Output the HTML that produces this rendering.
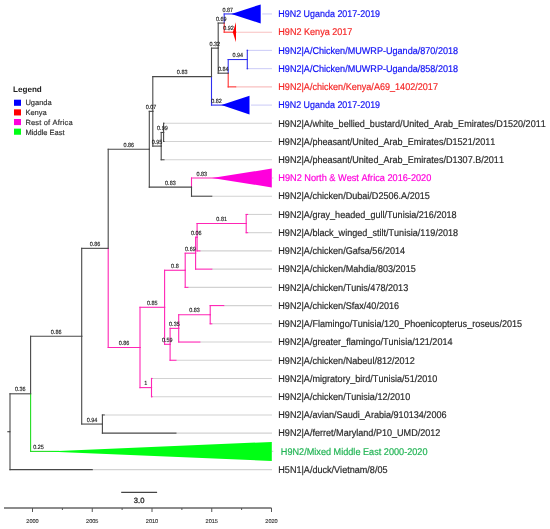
<!DOCTYPE html>
<html><head><meta charset="utf-8"><style>
html,body{margin:0;padding:0;background:#fff;width:550px;height:529px;overflow:hidden;}
svg{display:block;will-change:transform;}
text{font-family:"Liberation Sans",sans-serif;font-kerning:none;}
</style></head><body>
<svg width="550" height="529" viewBox="0 0 550 529">
<line x1="262.20" y1="13.95" x2="272" y2="13.95" stroke="#cfcff8" stroke-width="1.1"/>
<line x1="237.50" y1="32.18" x2="272" y2="32.18" stroke="#f8c0c0" stroke-width="1.1"/>
<line x1="247.60" y1="50.40" x2="272" y2="50.40" stroke="#cfcff8" stroke-width="1.1"/>
<line x1="247.60" y1="68.63" x2="272" y2="68.63" stroke="#cfcff8" stroke-width="1.1"/>
<line x1="235.65" y1="86.86" x2="272" y2="86.86" stroke="#f8c0c0" stroke-width="1.1"/>
<line x1="251.00" y1="105.09" x2="272" y2="105.09" stroke="#cfcff8" stroke-width="1.1"/>
<line x1="163.95" y1="123.31" x2="272" y2="123.31" stroke="#d2d2d2" stroke-width="1.1"/>
<line x1="163.95" y1="141.54" x2="272" y2="141.54" stroke="#d2d2d2" stroke-width="1.1"/>
<line x1="163.95" y1="159.77" x2="272" y2="159.77" stroke="#d2d2d2" stroke-width="1.1"/>
<line x1="273.30" y1="177.99" x2="272" y2="177.99" stroke="#d2d2d2" stroke-width="1.1"/>
<line x1="211.75" y1="196.22" x2="272" y2="196.22" stroke="#d2d2d2" stroke-width="1.1"/>
<line x1="247.60" y1="214.45" x2="272" y2="214.45" stroke="#d2d2d2" stroke-width="1.1"/>
<line x1="247.60" y1="232.67" x2="272" y2="232.67" stroke="#d2d2d2" stroke-width="1.1"/>
<line x1="199.80" y1="250.90" x2="272" y2="250.90" stroke="#d2d2d2" stroke-width="1.1"/>
<line x1="211.75" y1="269.13" x2="272" y2="269.13" stroke="#d2d2d2" stroke-width="1.1"/>
<line x1="187.85" y1="287.36" x2="272" y2="287.36" stroke="#d2d2d2" stroke-width="1.1"/>
<line x1="223.70" y1="305.58" x2="272" y2="305.58" stroke="#d2d2d2" stroke-width="1.1"/>
<line x1="211.75" y1="323.81" x2="272" y2="323.81" stroke="#d2d2d2" stroke-width="1.1"/>
<line x1="199.80" y1="342.04" x2="272" y2="342.04" stroke="#d2d2d2" stroke-width="1.1"/>
<line x1="175.90" y1="360.26" x2="272" y2="360.26" stroke="#d2d2d2" stroke-width="1.1"/>
<line x1="152.00" y1="378.49" x2="272" y2="378.49" stroke="#d2d2d2" stroke-width="1.1"/>
<line x1="152.00" y1="396.72" x2="272" y2="396.72" stroke="#d2d2d2" stroke-width="1.1"/>
<line x1="104.20" y1="414.94" x2="272" y2="414.94" stroke="#d2d2d2" stroke-width="1.1"/>
<line x1="175.90" y1="433.17" x2="272" y2="433.17" stroke="#d2d2d2" stroke-width="1.1"/>
<line x1="273.30" y1="451.40" x2="272" y2="451.40" stroke="#d2d2d2" stroke-width="1.1"/>
<line x1="92.25" y1="469.62" x2="272" y2="469.62" stroke="#d2d2d2" stroke-width="1.1"/>
<line x1="224.20" y1="13.95" x2="243.40" y2="13.95" stroke="#3030f0" stroke-width="1.1" stroke-linecap="square"/>
<line x1="224.20" y1="32.18" x2="236.00" y2="32.18" stroke="#ff3030" stroke-width="1.1" stroke-linecap="square"/>
<line x1="224.20" y1="23.06" x2="224.20" y2="13.95" stroke="#3030f0" stroke-width="1.1" stroke-linecap="square"/>
<line x1="224.20" y1="23.06" x2="224.20" y2="32.18" stroke="#ff3030" stroke-width="1.1" stroke-linecap="square"/>
<line x1="218.20" y1="23.06" x2="224.20" y2="23.06" stroke="#484848" stroke-width="1.1" stroke-linecap="square"/>
<line x1="247.30" y1="50.40" x2="247.60" y2="50.40" stroke="#3030f0" stroke-width="1.1" stroke-linecap="square"/>
<line x1="247.30" y1="68.63" x2="247.60" y2="68.63" stroke="#3030f0" stroke-width="1.1" stroke-linecap="square"/>
<line x1="247.30" y1="59.52" x2="247.30" y2="50.40" stroke="#3030f0" stroke-width="1.1" stroke-linecap="square"/>
<line x1="247.30" y1="59.52" x2="247.30" y2="68.63" stroke="#3030f0" stroke-width="1.1" stroke-linecap="square"/>
<line x1="228.20" y1="59.52" x2="247.30" y2="59.52" stroke="#3030f0" stroke-width="1.1" stroke-linecap="square"/>
<line x1="228.20" y1="86.86" x2="235.65" y2="86.86" stroke="#ff3030" stroke-width="1.1" stroke-linecap="square"/>
<line x1="228.20" y1="73.19" x2="228.20" y2="59.52" stroke="#3030f0" stroke-width="1.1" stroke-linecap="square"/>
<line x1="228.20" y1="73.19" x2="228.20" y2="86.86" stroke="#ff3030" stroke-width="1.1" stroke-linecap="square"/>
<line x1="218.20" y1="73.19" x2="228.20" y2="73.19" stroke="#484848" stroke-width="1.1" stroke-linecap="square"/>
<line x1="218.20" y1="48.13" x2="218.20" y2="23.06" stroke="#484848" stroke-width="1.1" stroke-linecap="square"/>
<line x1="218.20" y1="48.13" x2="218.20" y2="73.19" stroke="#484848" stroke-width="1.1" stroke-linecap="square"/>
<line x1="211.50" y1="48.13" x2="218.20" y2="48.13" stroke="#484848" stroke-width="1.1" stroke-linecap="square"/>
<line x1="211.50" y1="105.09" x2="233.40" y2="105.09" stroke="#3030f0" stroke-width="1.1" stroke-linecap="square"/>
<line x1="211.50" y1="76.61" x2="211.50" y2="48.13" stroke="#484848" stroke-width="1.1" stroke-linecap="square"/>
<line x1="211.50" y1="76.61" x2="211.50" y2="105.09" stroke="#3030f0" stroke-width="1.1" stroke-linecap="square"/>
<line x1="152.80" y1="76.61" x2="211.50" y2="76.61" stroke="#484848" stroke-width="1.1" stroke-linecap="square"/>
<line x1="163.60" y1="123.31" x2="163.95" y2="123.31" stroke="#484848" stroke-width="1.1" stroke-linecap="square"/>
<line x1="163.60" y1="141.54" x2="163.95" y2="141.54" stroke="#484848" stroke-width="1.1" stroke-linecap="square"/>
<line x1="163.60" y1="132.43" x2="163.60" y2="123.31" stroke="#484848" stroke-width="1.1" stroke-linecap="square"/>
<line x1="163.60" y1="132.43" x2="163.60" y2="141.54" stroke="#484848" stroke-width="1.1" stroke-linecap="square"/>
<line x1="161.20" y1="132.43" x2="163.60" y2="132.43" stroke="#484848" stroke-width="1.1" stroke-linecap="square"/>
<line x1="161.20" y1="159.77" x2="163.95" y2="159.77" stroke="#484848" stroke-width="1.1" stroke-linecap="square"/>
<line x1="161.20" y1="146.10" x2="161.20" y2="132.43" stroke="#484848" stroke-width="1.1" stroke-linecap="square"/>
<line x1="161.20" y1="146.10" x2="161.20" y2="159.77" stroke="#484848" stroke-width="1.1" stroke-linecap="square"/>
<line x1="152.80" y1="146.10" x2="161.20" y2="146.10" stroke="#484848" stroke-width="1.1" stroke-linecap="square"/>
<line x1="152.80" y1="111.35" x2="152.80" y2="76.61" stroke="#484848" stroke-width="1.1" stroke-linecap="square"/>
<line x1="152.80" y1="111.35" x2="152.80" y2="146.10" stroke="#484848" stroke-width="1.1" stroke-linecap="square"/>
<line x1="149.30" y1="111.35" x2="152.80" y2="111.35" stroke="#484848" stroke-width="1.1" stroke-linecap="square"/>
<line x1="191.50" y1="177.99" x2="224.00" y2="177.99" stroke="#ff25b5" stroke-width="1.1" stroke-linecap="square"/>
<line x1="191.50" y1="196.22" x2="211.75" y2="196.22" stroke="#484848" stroke-width="1.1" stroke-linecap="square"/>
<line x1="191.50" y1="187.11" x2="191.50" y2="177.99" stroke="#ff25b5" stroke-width="1.1" stroke-linecap="square"/>
<line x1="191.50" y1="187.11" x2="191.50" y2="196.22" stroke="#484848" stroke-width="1.1" stroke-linecap="square"/>
<line x1="149.30" y1="187.11" x2="191.50" y2="187.11" stroke="#484848" stroke-width="1.1" stroke-linecap="square"/>
<line x1="149.30" y1="149.23" x2="149.30" y2="111.35" stroke="#484848" stroke-width="1.1" stroke-linecap="square"/>
<line x1="149.30" y1="149.23" x2="149.30" y2="187.11" stroke="#484848" stroke-width="1.1" stroke-linecap="square"/>
<line x1="108.20" y1="149.23" x2="149.30" y2="149.23" stroke="#484848" stroke-width="1.1" stroke-linecap="square"/>
<line x1="246.20" y1="214.45" x2="247.60" y2="214.45" stroke="#ff25b5" stroke-width="1.1" stroke-linecap="square"/>
<line x1="246.20" y1="232.67" x2="247.60" y2="232.67" stroke="#ff25b5" stroke-width="1.1" stroke-linecap="square"/>
<line x1="246.20" y1="223.56" x2="246.20" y2="214.45" stroke="#ff25b5" stroke-width="1.1" stroke-linecap="square"/>
<line x1="246.20" y1="223.56" x2="246.20" y2="232.67" stroke="#ff25b5" stroke-width="1.1" stroke-linecap="square"/>
<line x1="197.10" y1="223.56" x2="246.20" y2="223.56" stroke="#ff25b5" stroke-width="1.1" stroke-linecap="square"/>
<line x1="197.10" y1="250.90" x2="199.80" y2="250.90" stroke="#ff25b5" stroke-width="1.1" stroke-linecap="square"/>
<line x1="197.10" y1="237.23" x2="197.10" y2="223.56" stroke="#ff25b5" stroke-width="1.1" stroke-linecap="square"/>
<line x1="197.10" y1="237.23" x2="197.10" y2="250.90" stroke="#ff25b5" stroke-width="1.1" stroke-linecap="square"/>
<line x1="195.60" y1="237.23" x2="197.10" y2="237.23" stroke="#ff25b5" stroke-width="1.1" stroke-linecap="square"/>
<line x1="195.60" y1="269.13" x2="211.75" y2="269.13" stroke="#ff25b5" stroke-width="1.1" stroke-linecap="square"/>
<line x1="195.60" y1="253.18" x2="195.60" y2="237.23" stroke="#ff25b5" stroke-width="1.1" stroke-linecap="square"/>
<line x1="195.60" y1="253.18" x2="195.60" y2="269.13" stroke="#ff25b5" stroke-width="1.1" stroke-linecap="square"/>
<line x1="185.20" y1="253.18" x2="195.60" y2="253.18" stroke="#ff25b5" stroke-width="1.1" stroke-linecap="square"/>
<line x1="185.20" y1="287.36" x2="187.85" y2="287.36" stroke="#ff25b5" stroke-width="1.1" stroke-linecap="square"/>
<line x1="185.20" y1="270.27" x2="185.20" y2="253.18" stroke="#ff25b5" stroke-width="1.1" stroke-linecap="square"/>
<line x1="185.20" y1="270.27" x2="185.20" y2="287.36" stroke="#ff25b5" stroke-width="1.1" stroke-linecap="square"/>
<line x1="164.60" y1="270.27" x2="185.20" y2="270.27" stroke="#ff25b5" stroke-width="1.1" stroke-linecap="square"/>
<line x1="210.20" y1="305.58" x2="223.70" y2="305.58" stroke="#ff25b5" stroke-width="1.1" stroke-linecap="square"/>
<line x1="210.20" y1="323.81" x2="211.75" y2="323.81" stroke="#ff25b5" stroke-width="1.1" stroke-linecap="square"/>
<line x1="210.20" y1="314.70" x2="210.20" y2="305.58" stroke="#ff25b5" stroke-width="1.1" stroke-linecap="square"/>
<line x1="210.20" y1="314.70" x2="210.20" y2="323.81" stroke="#ff25b5" stroke-width="1.1" stroke-linecap="square"/>
<line x1="178.70" y1="314.70" x2="210.20" y2="314.70" stroke="#ff25b5" stroke-width="1.1" stroke-linecap="square"/>
<line x1="178.70" y1="342.04" x2="199.80" y2="342.04" stroke="#ff25b5" stroke-width="1.1" stroke-linecap="square"/>
<line x1="178.70" y1="328.37" x2="178.70" y2="314.70" stroke="#ff25b5" stroke-width="1.1" stroke-linecap="square"/>
<line x1="178.70" y1="328.37" x2="178.70" y2="342.04" stroke="#ff25b5" stroke-width="1.1" stroke-linecap="square"/>
<line x1="170.10" y1="328.37" x2="178.70" y2="328.37" stroke="#ff25b5" stroke-width="1.1" stroke-linecap="square"/>
<line x1="170.10" y1="360.26" x2="175.90" y2="360.26" stroke="#ff25b5" stroke-width="1.1" stroke-linecap="square"/>
<line x1="170.10" y1="344.31" x2="170.10" y2="328.37" stroke="#ff25b5" stroke-width="1.1" stroke-linecap="square"/>
<line x1="170.10" y1="344.31" x2="170.10" y2="360.26" stroke="#ff25b5" stroke-width="1.1" stroke-linecap="square"/>
<line x1="164.60" y1="344.31" x2="170.10" y2="344.31" stroke="#ff25b5" stroke-width="1.1" stroke-linecap="square"/>
<line x1="164.60" y1="307.29" x2="164.60" y2="270.27" stroke="#ff25b5" stroke-width="1.1" stroke-linecap="square"/>
<line x1="164.60" y1="307.29" x2="164.60" y2="344.31" stroke="#ff25b5" stroke-width="1.1" stroke-linecap="square"/>
<line x1="140.00" y1="307.29" x2="164.60" y2="307.29" stroke="#ff25b5" stroke-width="1.1" stroke-linecap="square"/>
<line x1="151.50" y1="378.49" x2="152.00" y2="378.49" stroke="#ff25b5" stroke-width="1.1" stroke-linecap="square"/>
<line x1="151.50" y1="396.72" x2="152.00" y2="396.72" stroke="#ff25b5" stroke-width="1.1" stroke-linecap="square"/>
<line x1="151.50" y1="387.60" x2="151.50" y2="378.49" stroke="#ff25b5" stroke-width="1.1" stroke-linecap="square"/>
<line x1="151.50" y1="387.60" x2="151.50" y2="396.72" stroke="#ff25b5" stroke-width="1.1" stroke-linecap="square"/>
<line x1="140.00" y1="387.60" x2="151.50" y2="387.60" stroke="#ff25b5" stroke-width="1.1" stroke-linecap="square"/>
<line x1="140.00" y1="347.45" x2="140.00" y2="307.29" stroke="#ff25b5" stroke-width="1.1" stroke-linecap="square"/>
<line x1="140.00" y1="347.45" x2="140.00" y2="387.60" stroke="#ff25b5" stroke-width="1.1" stroke-linecap="square"/>
<line x1="108.20" y1="347.45" x2="140.00" y2="347.45" stroke="#ff25b5" stroke-width="1.1" stroke-linecap="square"/>
<line x1="108.20" y1="248.34" x2="108.20" y2="149.23" stroke="#484848" stroke-width="1.1" stroke-linecap="square"/>
<line x1="108.20" y1="248.34" x2="108.20" y2="347.45" stroke="#ff25b5" stroke-width="1.1" stroke-linecap="square"/>
<line x1="81.70" y1="248.34" x2="108.20" y2="248.34" stroke="#484848" stroke-width="1.1" stroke-linecap="square"/>
<line x1="102.40" y1="414.94" x2="104.20" y2="414.94" stroke="#484848" stroke-width="1.1" stroke-linecap="square"/>
<line x1="102.40" y1="433.17" x2="175.90" y2="433.17" stroke="#484848" stroke-width="1.1" stroke-linecap="square"/>
<line x1="102.40" y1="424.06" x2="102.40" y2="414.94" stroke="#484848" stroke-width="1.1" stroke-linecap="square"/>
<line x1="102.40" y1="424.06" x2="102.40" y2="433.17" stroke="#484848" stroke-width="1.1" stroke-linecap="square"/>
<line x1="81.70" y1="424.06" x2="102.40" y2="424.06" stroke="#484848" stroke-width="1.1" stroke-linecap="square"/>
<line x1="81.70" y1="336.20" x2="81.70" y2="248.34" stroke="#484848" stroke-width="1.1" stroke-linecap="square"/>
<line x1="81.70" y1="336.20" x2="81.70" y2="424.06" stroke="#484848" stroke-width="1.1" stroke-linecap="square"/>
<line x1="30.60" y1="336.20" x2="81.70" y2="336.20" stroke="#484848" stroke-width="1.1" stroke-linecap="square"/>
<line x1="30.60" y1="451.40" x2="58.50" y2="451.40" stroke="#22dd22" stroke-width="1.1" stroke-linecap="square"/>
<line x1="30.60" y1="393.80" x2="30.60" y2="336.20" stroke="#484848" stroke-width="1.1" stroke-linecap="square"/>
<line x1="30.60" y1="393.80" x2="30.60" y2="451.40" stroke="#22dd22" stroke-width="1.1" stroke-linecap="square"/>
<line x1="10.00" y1="393.80" x2="30.60" y2="393.80" stroke="#484848" stroke-width="1.1" stroke-linecap="square"/>
<line x1="10.00" y1="469.62" x2="92.25" y2="469.62" stroke="#484848" stroke-width="1.1" stroke-linecap="square"/>
<line x1="10.00" y1="431.71" x2="10.00" y2="393.80" stroke="#484848" stroke-width="1.1" stroke-linecap="square"/>
<line x1="10.00" y1="431.71" x2="10.00" y2="469.62" stroke="#484848" stroke-width="1.1" stroke-linecap="square"/>
<polygon points="231.40,13.95 260.70,4.45 260.70,23.45" fill="#0000ff"/>
<polygon points="232.80,32.18 236.00,22.18 236.00,42.18" fill="#ff0000"/>
<polygon points="221.40,105.09 249.50,95.79 249.50,114.39" fill="#0000ff"/>
<polygon points="212.00,177.99 271.80,168.59 271.80,187.39" fill="#ff00dc"/>
<polygon points="46.50,451.40 271.80,441.90 271.80,460.90" fill="#00ff14"/>
<g font-family="Liberation Sans, sans-serif" font-size="6.0" fill="#222" stroke="#222" stroke-width="0.15" text-anchor="middle" text-rendering="geometricPrecision">
<text transform="translate(227.80,11.55) scale(0.91,1)">0.87</text>
<text transform="translate(228.50,29.78) scale(0.91,1)">0.92</text>
<text transform="translate(221.20,20.66) scale(0.91,1)">0.69</text>
<text transform="translate(237.75,57.12) scale(0.91,1)">0.94</text>
<text transform="translate(223.20,70.79) scale(0.91,1)">0.84</text>
<text transform="translate(214.85,45.73) scale(0.91,1)">0.32</text>
<text transform="translate(216.45,102.69) scale(0.91,1)">0.82</text>
<text transform="translate(182.15,74.21) scale(0.91,1)">0.83</text>
<text transform="translate(162.40,130.03) scale(0.91,1)">0.99</text>
<text transform="translate(157.00,143.70) scale(0.91,1)">0.95</text>
<text transform="translate(151.05,108.95) scale(0.91,1)">0.07</text>
<text transform="translate(201.75,175.59) scale(0.91,1)">0.83</text>
<text transform="translate(170.40,184.71) scale(0.91,1)">0.83</text>
<text transform="translate(128.75,146.83) scale(0.91,1)">0.86</text>
<text transform="translate(221.65,221.16) scale(0.91,1)">0.81</text>
<text transform="translate(196.35,234.83) scale(0.91,1)">0.06</text>
<text transform="translate(190.40,250.78) scale(0.91,1)">0.69</text>
<text transform="translate(174.90,267.87) scale(0.91,1)">0.8</text>
<text transform="translate(194.45,312.30) scale(0.91,1)">0.83</text>
<text transform="translate(174.40,325.97) scale(0.91,1)">0.35</text>
<text transform="translate(167.35,341.91) scale(0.91,1)">0.59</text>
<text transform="translate(152.30,304.89) scale(0.91,1)">0.85</text>
<text transform="translate(145.75,385.20) scale(0.91,1)">1</text>
<text transform="translate(124.10,345.05) scale(0.91,1)">0.86</text>
<text transform="translate(94.95,245.94) scale(0.91,1)">0.86</text>
<text transform="translate(92.05,421.66) scale(0.91,1)">0.94</text>
<text transform="translate(56.15,333.80) scale(0.91,1)">0.86</text>
<text transform="translate(38.55,449.00) scale(0.91,1)">0.25</text>
<text transform="translate(20.30,391.40) scale(0.91,1)">0.36</text>
</g>
<g font-family="Liberation Sans, sans-serif" font-size="9.8" text-rendering="geometricPrecision" stroke-width="0.2">
<text transform="translate(278.3,17.20) scale(0.9116,1)" fill="#1010f5" stroke="#1010f5">H9N2 Uganda 2017-2019</text>
<text transform="translate(278.3,35.43) scale(0.9255,1)" fill="#f52828" stroke="#f52828">H9N2 Kenya 2017</text>
<text transform="translate(278.3,53.65) scale(0.9255,1)" fill="#1010f5" stroke="#1010f5">H9N2|A/Chicken/MUWRP-Uganda/870/2018</text>
<text transform="translate(278.3,71.88) scale(0.9255,1)" fill="#1010f5" stroke="#1010f5">H9N2|A/Chicken/MUWRP-Uganda/858/2018</text>
<text transform="translate(278.3,90.11) scale(0.9255,1)" fill="#f52828" stroke="#f52828">H9N2|A/chicken/Kenya/A69_1402/2017</text>
<text transform="translate(278.3,108.34) scale(0.9116,1)" fill="#1010f5" stroke="#1010f5">H9N2 Uganda 2017-2019</text>
<text transform="translate(278.3,126.56) scale(0.9255,1)" fill="#2a2a2a" stroke="#2a2a2a">H9N2|A/white_bellied_bustard/United_Arab_Emirates/D1520/2011</text>
<text transform="translate(278.3,144.79) scale(0.9255,1)" fill="#2a2a2a" stroke="#2a2a2a">H9N2|A/pheasant/United_Arab_Emirates/D1521/2011</text>
<text transform="translate(278.3,163.02) scale(0.9255,1)" fill="#2a2a2a" stroke="#2a2a2a">H9N2|A/pheasant/United_Arab_Emirates/D1307.B/2011</text>
<text transform="translate(278.3,181.24) scale(0.9366,1)" fill="#ff00dc" stroke="#ff00dc">H9N2 North &amp; West Africa 2016-2020</text>
<text transform="translate(278.3,199.47) scale(0.9255,1)" fill="#2a2a2a" stroke="#2a2a2a">H9N2|A/chicken/Dubai/D2506.A/2015</text>
<text transform="translate(278.3,217.70) scale(0.9255,1)" fill="#2a2a2a" stroke="#2a2a2a">H9N2|A/gray_headed_gull/Tunisia/216/2018</text>
<text transform="translate(278.3,235.92) scale(0.9255,1)" fill="#2a2a2a" stroke="#2a2a2a">H9N2|A/black_winged_stilt/Tunisia/119/2018</text>
<text transform="translate(278.3,254.15) scale(0.9255,1)" fill="#2a2a2a" stroke="#2a2a2a">H9N2|A/chicken/Gafsa/56/2014</text>
<text transform="translate(278.3,272.38) scale(0.9255,1)" fill="#2a2a2a" stroke="#2a2a2a">H9N2|A/chicken/Mahdia/803/2015</text>
<text transform="translate(278.3,290.61) scale(0.9255,1)" fill="#2a2a2a" stroke="#2a2a2a">H9N2|A/chicken/Tunis/478/2013</text>
<text transform="translate(278.3,308.83) scale(0.9255,1)" fill="#2a2a2a" stroke="#2a2a2a">H9N2|A/chicken/Sfax/40/2016</text>
<text transform="translate(278.3,327.06) scale(0.9255,1)" fill="#2a2a2a" stroke="#2a2a2a">H9N2|A/Flamingo/Tunisia/120_Phoenicopterus_roseus/2015</text>
<text transform="translate(278.3,345.29) scale(0.9255,1)" fill="#2a2a2a" stroke="#2a2a2a">H9N2|A/greater_flamingo/Tunisia/121/2014</text>
<text transform="translate(278.3,363.51) scale(0.9255,1)" fill="#2a2a2a" stroke="#2a2a2a">H9N2|A/chicken/Nabeul/812/2012</text>
<text transform="translate(278.3,381.74) scale(0.9255,1)" fill="#2a2a2a" stroke="#2a2a2a">H9N2|A/migratory_bird/Tunisia/51/2010</text>
<text transform="translate(278.3,399.97) scale(0.9255,1)" fill="#2a2a2a" stroke="#2a2a2a">H9N2|A/chicken/Tunisia/12/2010</text>
<text transform="translate(278.3,418.19) scale(0.9255,1)" fill="#2a2a2a" stroke="#2a2a2a">H9N2|A/avian/Saudi_Arabia/910134/2006</text>
<text transform="translate(278.3,436.42) scale(0.9255,1)" fill="#2a2a2a" stroke="#2a2a2a">H9N2|A/ferret/Maryland/P10_UMD/2012</text>
<text transform="translate(280.8,454.65) scale(0.9320,1)" fill="#22b455" stroke="#22b455">H9N2/Mixed Middle East 2000-2020</text>
<text transform="translate(278.3,472.88) scale(0.9255,1)" fill="#2a2a2a" stroke="#2a2a2a">H5N1|A/duck/Vietnam/8/05</text>
</g>
<line x1="7.3" y1="431.71" x2="10.0" y2="431.71" stroke="#444" stroke-width="1.1"/>
<text x="13" y="91.8" font-family="Liberation Sans, sans-serif" font-weight="bold" font-size="8.1" fill="#222" text-rendering="geometricPrecision">Legend</text>
<rect x="14" y="99.70" width="7" height="6.1" fill="#0000ff"/>
<text x="25.4" y="105.40" font-family="Liberation Sans, sans-serif" font-size="7.5" fill="#333" stroke="#333" stroke-width="0.18" text-rendering="geometricPrecision">Uganda</text>
<rect x="14" y="109.35" width="7" height="6.1" fill="#ff0000"/>
<text x="25.4" y="115.10" font-family="Liberation Sans, sans-serif" font-size="7.5" fill="#333" stroke="#333" stroke-width="0.18" text-rendering="geometricPrecision">Kenya</text>
<rect x="14" y="119.00" width="7" height="6.1" fill="#ff00dc"/>
<text x="25.4" y="124.80" font-family="Liberation Sans, sans-serif" font-size="7.5" fill="#333" stroke="#333" stroke-width="0.18" text-rendering="geometricPrecision" letter-spacing="0.17">Rest of Africa</text>
<rect x="14" y="128.65" width="7" height="6.1" fill="#00ff14"/>
<text x="25.4" y="134.50" font-family="Liberation Sans, sans-serif" font-size="7.5" fill="#333" stroke="#333" stroke-width="0.18" text-rendering="geometricPrecision">Middle East</text>
<line x1="121.2" y1="492.4" x2="157.1" y2="492.4" stroke="#444" stroke-width="1.1"/>
<text x="139.1" y="502.6" font-family="Liberation Sans, sans-serif" font-size="7.6" fill="#333" stroke="#333" stroke-width="0.35" text-anchor="middle" text-rendering="geometricPrecision">3.0</text>
<line x1="4" y1="508" x2="271.5" y2="508" stroke="#666" stroke-width="1.6"/>
<line x1="32.50" y1="508" x2="32.50" y2="512" stroke="#555" stroke-width="1"/>
<text x="32.50" y="523.2" font-family="Liberation Sans, sans-serif" font-size="5.6" fill="#333" stroke="#333" stroke-width="0.12" text-anchor="middle" text-rendering="geometricPrecision">2000</text>
<line x1="92.25" y1="508" x2="92.25" y2="512" stroke="#555" stroke-width="1"/>
<text x="92.25" y="523.2" font-family="Liberation Sans, sans-serif" font-size="5.6" fill="#333" stroke="#333" stroke-width="0.12" text-anchor="middle" text-rendering="geometricPrecision">2005</text>
<line x1="152.00" y1="508" x2="152.00" y2="512" stroke="#555" stroke-width="1"/>
<text x="152.00" y="523.2" font-family="Liberation Sans, sans-serif" font-size="5.6" fill="#333" stroke="#333" stroke-width="0.12" text-anchor="middle" text-rendering="geometricPrecision">2010</text>
<line x1="211.75" y1="508" x2="211.75" y2="512" stroke="#555" stroke-width="1"/>
<text x="211.75" y="523.2" font-family="Liberation Sans, sans-serif" font-size="5.6" fill="#333" stroke="#333" stroke-width="0.12" text-anchor="middle" text-rendering="geometricPrecision">2015</text>
<line x1="271.50" y1="508" x2="271.50" y2="512" stroke="#555" stroke-width="1"/>
<text x="271.50" y="523.2" font-family="Liberation Sans, sans-serif" font-size="5.6" fill="#333" stroke="#333" stroke-width="0.12" text-anchor="middle" text-rendering="geometricPrecision">2020</text>
<line x1="62.38" y1="508" x2="62.38" y2="510" stroke="#555" stroke-width="1"/>
<line x1="122.12" y1="508" x2="122.12" y2="510" stroke="#555" stroke-width="1"/>
<line x1="181.88" y1="508" x2="181.88" y2="510" stroke="#555" stroke-width="1"/>
<line x1="241.62" y1="508" x2="241.62" y2="510" stroke="#555" stroke-width="1"/>
</svg>
</body></html>
